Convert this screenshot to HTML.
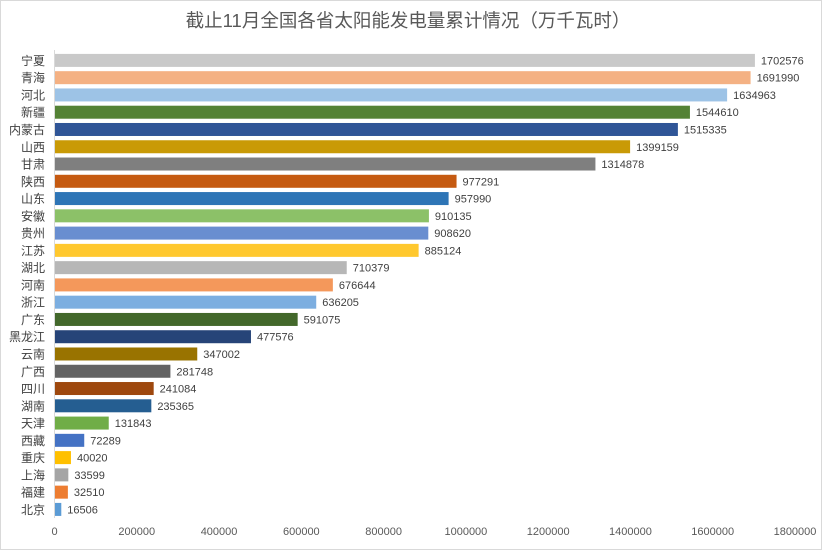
<!DOCTYPE html>
<html><head><meta charset="utf-8"><style>
html,body{margin:0;padding:0;background:#fff;}
#wrap{position:relative;width:822px;height:550px;overflow:hidden;}
svg text{font-family:"Liberation Sans","Noto Sans CJK SC",sans-serif;}
</style></head><body>
<div id="wrap">
<svg id="chart" width="822" height="550">
<rect x="0.5" y="0.5" width="821" height="549" fill="#fff" stroke="#d9d9d9"/>
<text x="408" y="27" text-anchor="middle" font-size="18.5" fill="#595959">截止11月全国各省太阳能发电量累计情况（万千瓦时）</text>
</svg>
</div>
<script>
const categories=["宁夏","青海","河北","新疆","内蒙古","山西","甘肃","陕西","山东","安徽","贵州","江苏","湖北","河南","浙江","广东","黑龙江","云南","广西","四川","湖南","天津","西藏","重庆","上海","福建","北京"];
const values=[1702576,1691990,1634963,1544610,1515335,1399159,1314878,977291,957990,910135,908620,885124,710379,676644,636205,591075,477576,347002,281748,241084,235365,131843,72289,40020,33599,32510,16506];
const ticks=[0,200000,400000,600000,800000,1000000,1200000,1400000,1600000,1800000];
const colors=["#c9c9c9","#f4b183","#9dc3e6","#548235","#2f5597","#c99a06","#7f7f7f","#c55a11","#2e75b6","#8cc168","#698ed0","#ffc82e","#b7b7b7","#f4985b","#7caee0","#43682b","#264478","#997300","#636363","#9e480e","#255e91","#70ad47","#4472c4","#ffc000","#a5a5a5","#ed7d31","#5b9bd5"];
const NS="http://www.w3.org/2000/svg";
const svg=document.getElementById('chart');
const x0=54.5,x1=795,xMax=1800000;
const xs=v=>x0+v/xMax*(x1-x0);
const y0=60.4,pitch=17.27,bh=13;
const ys=i=>y0+i*pitch;
function mk(tag,attrs){const e=document.createElementNS(NS,tag);for(const k in attrs)e.setAttribute(k,attrs[k]);svg.appendChild(e);return e;}
categories.forEach((c,i)=>{
  const r=mk('rect',{x:x0+0.5,y:ys(i)-bh/2,width:Math.max(0,xs(values[i])-x0-0.5),height:bh,fill:colors[i]});
  
  
  const t=mk('text',{x:xs(values[i])+6,y:ys(i)+4,'font-size':11,fill:'#404040'});
  t.textContent=values[i];
  
  
  const l=mk('text',{x:45,y:ys(i)+4.5,'font-size':12,fill:'#404040','text-anchor':'end'});
  l.textContent=c;
  
  
});
const ax=mk('line',{x1:x0,x2:x0,y1:50,y2:518,stroke:'#d9d9d9','stroke-width':1});


ticks.forEach((v,i)=>{
  const t=mk('text',{x:xs(v),y:535,'font-size':11,fill:'#595959','text-anchor':'middle'});
  t.textContent=v;
  
  
});
</script>
</body></html>
